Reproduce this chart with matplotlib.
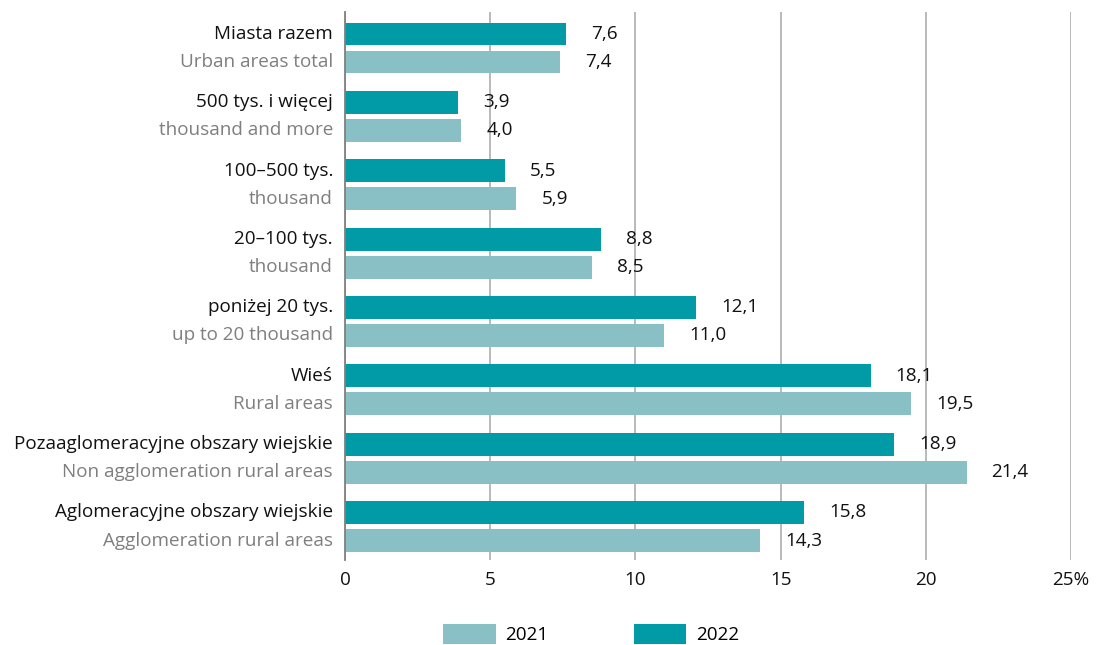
import matplotlib
matplotlib.use("Agg")
import matplotlib.pyplot as plt
from matplotlib.patches import Patch
from matplotlib.transforms import blended_transform_factory, offset_copy
import numpy as np

plt.rcParams['font.family'] = ['Open Sans', 'DejaVu Sans']

labels_pl = ["Miasta razem", "500 tys. i więcej", "100–500 tys.", "20–100 tys.",
             "poniżej 20 tys.", "Wieś", "Pozaaglomeracyjne obszary wiejskie",
             "Aglomeracyjne obszary wiejskie"]
labels_en = ["Urban areas total", "thousand and more", "thousand", "thousand",
             "up to 20 thousand", "Rural areas", "Non agglomeration rural areas",
             "Agglomeration rural areas"]
values_2022 = [7.6, 3.9, 5.5, 8.8, 12.1, 18.1, 18.9, 15.8]
values_2021 = [7.4, 4.0, 5.9, 8.5, 11.0, 19.5, 21.4, 14.3]
x_ticks = [0, 5, 10, 15, 20, 25]
x_ticklabels = ["0", "5", "10", "15", "20", "25%"]

c2022 = "#009ba6"
c2021 = "#88c0c6"
gray_txt = "#7f7f7f"
txt = "#111111"
FS = 13.6

fig = plt.figure(figsize=(11.01, 6.45), dpi=100)
ax = fig.add_axes([0.3134, 1 - 560/645, 0.9728 - 0.3134, (560 - 11.7)/645])

y = np.arange(len(labels_pl))
h = 0.336
off = 0.205
b22 = ax.barh(y - off, values_2022, height=h, color=c2022, zorder=3)
b21 = ax.barh(y + off, values_2021, height=h, color=c2021, zorder=3)

fmt = lambda v: f"{v:.1f}".replace(".", ",")
ax.bar_label(b22, labels=[fmt(v) for v in values_2022], padding=18, fontsize=FS, color=txt)
ax.bar_label(b21, labels=[fmt(v) for v in values_2021], padding=18, fontsize=FS, color=txt)

ax.set_xlim(0, 25)
ax.set_ylim(7.49, -0.531)
ax.set_xticks(x_ticks)
ax.set_xticklabels(x_ticklabels, fontsize=FS, color=txt)
ax.set_yticks([])
ax.tick_params(axis='x', length=0, pad=8)
ax.grid(axis='x', color="#a6a6a6", linewidth=1.1, zorder=0)
for s in ["top", "right", "bottom"]:
    ax.spines[s].set_visible(False)
ax.spines["left"].set_color("#808080")
ax.spines["left"].set_linewidth(1.3)
ax.spines["left"].set_zorder(4)

trans = offset_copy(blended_transform_factory(ax.transAxes, ax.transData), fig=fig, x=-12, y=0, units='dots')
for i in range(len(labels_pl)):
    ax.text(0, y[i] - off, labels_pl[i], transform=trans, ha='right', va='center',
            fontsize=FS, color=txt)
    ax.text(0, y[i] + off, labels_en[i], transform=trans, ha='right', va='center',
            fontsize=FS, color=gray_txt)

handles = [Patch(facecolor=c2021, edgecolor='none', label="2021"),
           Patch(facecolor=c2022, edgecolor='none', label="2022")]
fig.legend(handles=handles, loc='center', bbox_to_anchor=(591/1101, 1 - 634/645),
           ncol=2, frameon=False, fontsize=FS, handlelength=2.8, handleheight=1.3,
           handletextpad=0.5, columnspacing=4.5, borderpad=0, borderaxespad=0)

fig.savefig("out.png", dpi=100)
